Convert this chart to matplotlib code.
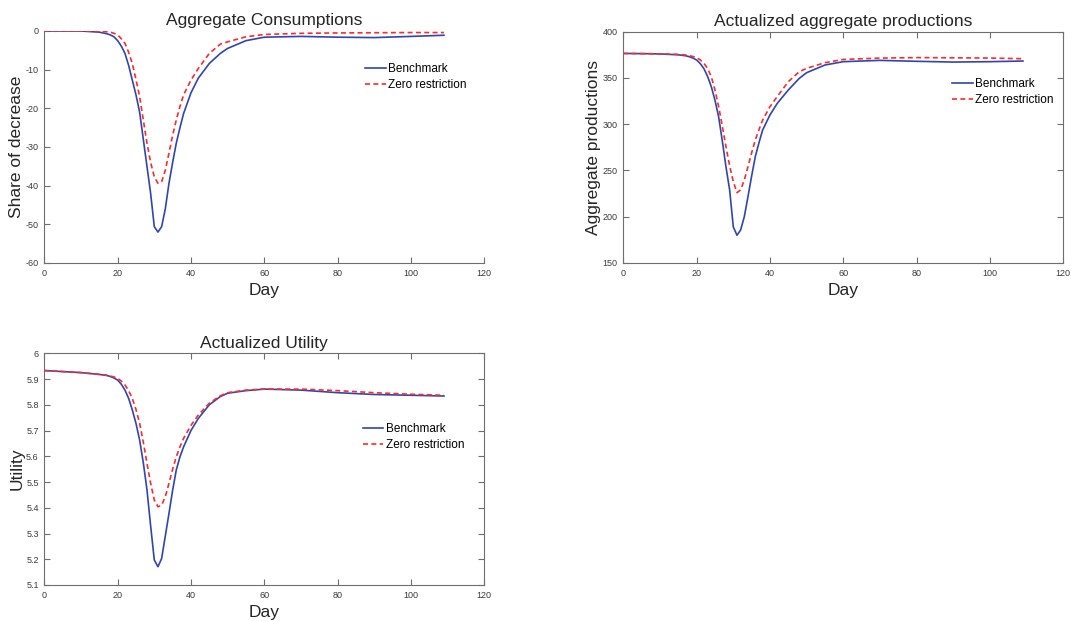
import matplotlib
matplotlib.use("Agg")
import matplotlib.pyplot as plt

plt.rcParams['font.family'] = ['Liberation Sans', 'DejaVu Sans']
plt.rcParams['axes.unicode_minus'] = False

# ---------------- data ----------------
days = [0, 5, 10, 15, 17, 18, 19, 20, 21, 22, 23, 24, 25, 26, 27, 28, 29, 30, 31, 32,
        33, 34, 35, 36, 37, 38, 40, 42, 45, 48, 50, 55, 60, 70, 80, 90, 100, 109]

cons_bench = [0, 0, 0, -0.3, -0.7, -1.0, -1.5, -2.5, -3.9, -5.8, -8.9, -12.7, -16.5, -21.0,
              -28.0, -35.0, -42.0, -50.6, -52.0, -50.6, -46.0, -39.4, -34.0, -29.0, -25.0,
              -21.3, -16.0, -12.2, -8.4, -5.8, -4.5, -2.5, -1.6, -1.4, -1.6, -1.7, -1.4, -1.1]
cons_zero = [0, 0, 0, -0.1, -0.2, -0.3, -0.6, -1.0, -2.0, -3.2, -5.5, -8.4, -12.5, -17.0,
             -23.0, -29.0, -34.0, -37.7, -39.4, -39.0, -36.0, -31.6, -27.0, -23.0, -19.5,
             -16.5, -12.7, -9.7, -5.8, -3.4, -2.8, -1.5, -0.9, -0.6, -0.5, -0.45, -0.4, -0.4]

prod_bench = [376.5, 376.3, 376.0, 375.0, 374.0, 373.0, 371.5, 369.4, 365.5, 360.0, 351.5,
              340.6, 326.0, 308.0, 282.0, 254.0, 229.0, 189.0, 180.0, 185.7, 200.0, 221.7,
              244.0, 265.0, 280.0, 293.7, 310.0, 322.6, 337.0, 349.6, 355.7, 364.0, 367.6,
              369.0, 368.0, 367.2, 367.6, 368.3]
prod_zero = [376.5, 376.3, 376.0, 375.5, 374.8, 374.0, 373.2, 372.0, 369.5, 365.8, 360.0,
             351.4, 337.0, 319.0, 298.0, 275.7, 255.0, 238.0, 226.0, 229.0, 239.7, 254.0,
             269.0, 283.0, 294.0, 304.5, 319.0, 330.0, 346.0, 356.8, 360.4, 366.5, 370.0,
             371.5, 372.0, 371.8, 371.5, 370.8]

util_bench = [5.933, 5.929, 5.925, 5.918, 5.914, 5.910, 5.904, 5.896, 5.880, 5.857, 5.825,
              5.780, 5.728, 5.663, 5.575, 5.470, 5.330, 5.197, 5.171, 5.203, 5.290, 5.378,
              5.468, 5.547, 5.598, 5.637, 5.700, 5.747, 5.800, 5.832, 5.845, 5.855, 5.861,
              5.857, 5.847, 5.840, 5.837, 5.834]
util_zero = [5.933, 5.929, 5.925, 5.918, 5.915, 5.912, 5.908, 5.903, 5.892, 5.877, 5.855,
             5.825, 5.782, 5.728, 5.655, 5.573, 5.495, 5.430, 5.404, 5.410, 5.443, 5.495,
             5.550, 5.598, 5.637, 5.670, 5.720, 5.760, 5.806, 5.835, 5.847, 5.857, 5.861,
             5.861, 5.855, 5.847, 5.841, 5.837]

series_labels = ['Benchmark', 'Zero restriction']

# ---------------- style ----------------
BLUE = '#2f46b0'
RED = '#ff2a2a'
AXC = '#6e6e6e'
TXT = '#262626'

W, H = 1071, 621
fig = plt.figure(figsize=(W / 100, H / 100), dpi=100)


def make_ax(left, top, right, bottom):
    return fig.add_axes([left / W, 1 - bottom / H, (right - left) / W, (bottom - top) / H])


def style(ax, box=True):
    for s in ax.spines.values():
        s.set_color(AXC)
        s.set_linewidth(0.8)
    if not box:
        ax.spines['top'].set_visible(False)
        ax.spines['right'].set_visible(False)
    ax.tick_params(direction='in', length=4, width=0.8, color=AXC,
                   labelsize=6.5, labelcolor='#3a3a3a', pad=4,
                   top=box, right=box)
    ax.set_xlim(0, 120)
    ax.set_xticks(range(0, 121, 20))


def plot_pair(ax, yb, yz, title, ylabel, ylim, yticks, leg_anchor):
    ax.plot(days, yb, color=BLUE, lw=1.2, label=series_labels[0])
    ax.plot(days, yz, color=RED, lw=1.2, ls=(0, (3, 2)), label=series_labels[1])
    ax.set_ylim(*ylim)
    ax.set_yticks(yticks)
    ax.set_title(title, fontsize=12.5, color=TXT, pad=4)
    ax.set_xlabel('Day', fontsize=12.5, color=TXT, labelpad=4)
    ax.set_ylabel(ylabel, fontsize=12.5, color=TXT, labelpad=1.0)
    ax.legend(loc='upper left', bbox_to_anchor=leg_anchor, frameon=False,
              fontsize=8.5, handlelength=1.75, handletextpad=0.2,
              labelspacing=0.35, borderaxespad=0)


ax1 = make_ax(44.3, 31, 484.3, 263)
style(ax1, box=False)
plot_pair(ax1, cons_bench, cons_zero, 'Aggregate Consumptions', 'Share of decrease',
          (-60, 0), range(-60, 1, 10), (0.718, 0.882))

ax2 = make_ax(623.3, 31.7, 1063.3, 263)
style(ax2, box=True)
plot_pair(ax2, prod_bench, prod_zero, 'Actualized aggregate productions',
          'Aggregate productions', (150, 400), range(150, 401, 50), (0.736, 0.82))

ax3 = make_ax(44.3, 353.3, 484.3, 585)
style(ax3, box=True)
plot_pair(ax3, util_bench, util_zero, 'Actualized Utility', 'Utility',
          (5.1, 6.0), [5.1 + 0.1 * i for i in range(10)], (0.713, 0.72))
ax3.set_yticklabels(['5.1', '5.2', '5.3', '5.4', '5.5', '5.6', '5.7', '5.8', '5.9', '6'])

fig.savefig('out.png', dpi=100)
